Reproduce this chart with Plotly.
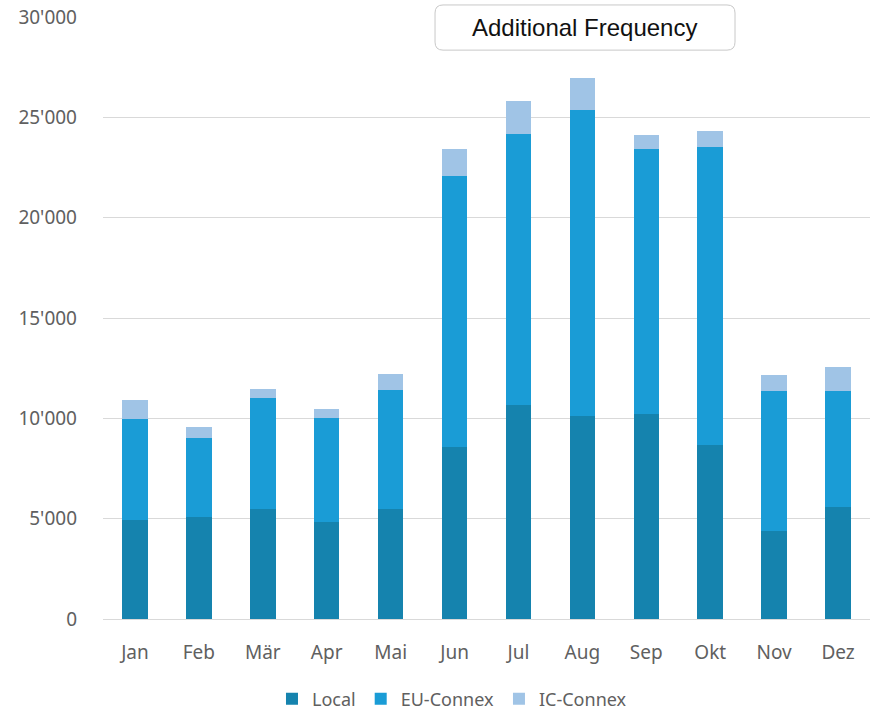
import plotly.graph_objects as go

months = ["Jan", "Feb", "Mär", "Apr", "Mai", "Jun", "Jul", "Aug", "Sep", "Okt", "Nov", "Dez"]
local = [4930, 5100, 5500, 4850, 5480, 8570, 10660, 10110, 10210, 8670, 4380, 5580]
eu_connex = [5020, 3900, 5500, 5180, 5930, 13520, 13500, 15250, 13220, 14860, 6990, 5790]
ic_connex = [960, 550, 460, 420, 790, 1340, 1650, 1590, 700, 780, 790, 1200]

y_ticks = [0, 5000, 10000, 15000, 20000, 25000, 30000]
y_tick_text = ["0", "5'000", "10'000", "15'000", "20'000", "25'000", "30'000"]

tick_font = dict(family="Noto Sans", size=19, color="#606060")

fig = go.Figure()
fig.add_trace(go.Bar(x=months, y=local, name="Local",
                     marker=dict(color="#1583AE", line=dict(width=0))))
fig.add_trace(go.Bar(x=months, y=eu_connex, name="EU-Connex",
                     marker=dict(color="#1A9CD6", line=dict(width=0))))
fig.add_trace(go.Bar(x=months, y=ic_connex, name="IC-Connex",
                     marker=dict(color="#A0C4E6", line=dict(width=0))))

fig.update_layout(
    barmode="stack",
    bargap=0.6,
    width=871,
    height=714,
    margin=dict(l=103, r=1, t=17, b=95, autoexpand=False),
    paper_bgcolor="white",
    plot_bgcolor="white",
    showlegend=True,
    legend=dict(
        orientation="h",
        x=0.455,
        xanchor="center",
        y=-0.133,
        yanchor="middle",
        font=dict(family="Noto Sans", size=18, color="#606060"),
        itemwidth=30,
        traceorder="normal",
    ),
    xaxis=dict(
        tickfont=tick_font,
        showgrid=False,
        showline=False,
        ticks="",
        ticklabelstandoff=20,
    ),
    yaxis=dict(
        range=[0, 30000],
        tickvals=y_ticks,
        ticktext=y_tick_text,
        tickfont=tick_font,
        showgrid=True,
        gridcolor="#D9D9D9",
        gridwidth=1,
        zeroline=True,
        zerolinecolor="#D9D9D9",
        zerolinewidth=1,
        showline=False,
        ticks="",
        ticklabelstandoff=25,
    ),
)

# Rounded title box above the plot area
x0, x1 = 0.4329, 0.824
y0, y1 = 0.945, 1.02
rx, ry = 0.0104, 0.0133
path = (
    f"M {x0 + rx},{y0} L {x1 - rx},{y0} Q {x1},{y0} {x1},{y0 + ry} "
    f"L {x1},{y1 - ry} Q {x1},{y1} {x1 - rx},{y1} "
    f"L {x0 + rx},{y1} Q {x0},{y1} {x0},{y1 - ry} "
    f"L {x0},{y0 + ry} Q {x0},{y0} {x0 + rx},{y0} Z"
)
fig.add_shape(
    type="path",
    path=path,
    xref="paper",
    yref="paper",
    fillcolor="white",
    line=dict(color="#C8C8C8", width=1),
    layer="above",
)
fig.add_annotation(
    text="Additional Frequency",
    x=0.628,
    y=0.9825,
    xref="paper",
    yref="paper",
    showarrow=False,
    xanchor="center",
    yanchor="middle",
    font=dict(family="Liberation Sans", size=24, color="#111111"),
)

fig.write_html("out.html")
